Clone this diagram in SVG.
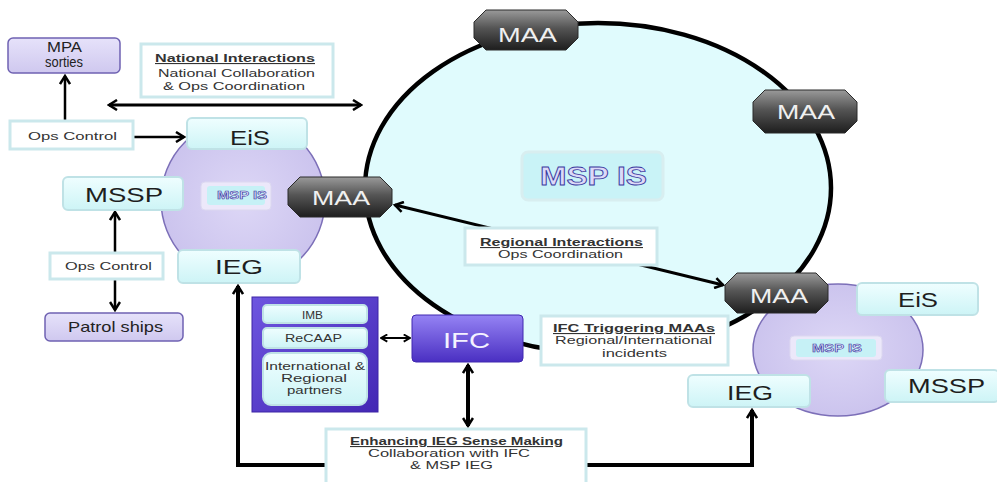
<svg xmlns="http://www.w3.org/2000/svg" width="997" height="482" viewBox="0 0 997 482">
<defs>
<linearGradient id="gCy" x1="0" y1="0" x2="0" y2="1"><stop offset="0" stop-color="#effeff"/><stop offset="1" stop-color="#cdf4f6"/></linearGradient>
<linearGradient id="gLav" x1="0" y1="0" x2="0" y2="1"><stop offset="0" stop-color="#e6e2fa"/><stop offset="1" stop-color="#cfc8ef"/></linearGradient>
<linearGradient id="gMaa" x1="0" y1="0" x2="0" y2="1"><stop offset="0" stop-color="#9a9a9a"/><stop offset="0.45" stop-color="#555"/><stop offset="1" stop-color="#1e1e1e"/></linearGradient>
<linearGradient id="gIfc" x1="0" y1="0" x2="0" y2="1"><stop offset="0" stop-color="#9583f4"/><stop offset="1" stop-color="#4a2fc2"/></linearGradient>
<linearGradient id="gPart" x1="0" y1="0" x2="1" y2="1"><stop offset="0" stop-color="#6e56e0"/><stop offset="1" stop-color="#4327b4"/></linearGradient>
<radialGradient id="gCirc" cx="0.5" cy="0.5" r="0.6"><stop offset="0" stop-color="#ddd7f6"/><stop offset="1" stop-color="#c8c0ec"/></radialGradient>
<marker id="ah" viewBox="0 0 12 12" refX="10" refY="6" markerWidth="12" markerHeight="12" orient="auto-start-reverse" markerUnits="userSpaceOnUse"><path d="M2,1 L10,6 L2,11" fill="none" stroke="#000" stroke-width="2.5"/></marker>
<marker id="ahs" viewBox="0 0 10 10" refX="9" refY="5" markerWidth="9" markerHeight="9" orient="auto-start-reverse" markerUnits="userSpaceOnUse"><path d="M2,1 L9,5 L2,9" fill="none" stroke="#000" stroke-width="2"/></marker>
</defs>
<style>
text{font-family:"Liberation Sans",Arial,sans-serif}
.cy{fill:url(#gCy);stroke:#bfe2e6;stroke-width:2}
.lav{fill:url(#gLav);stroke:#6f62b2;stroke-width:1.5}
.maa{fill:url(#gMaa);stroke:#2a2a2a;stroke-width:1}
.wb{fill:#fff;stroke:#cbe8ec;stroke-width:3}
.big{font-size:21px;fill:#1e1e1e}
.maat{font-size:20px;fill:#f0f0f0}
.sm{font-size:11px;fill:#333}
.smb{font-weight:bold;text-decoration:underline}
.msp{font-weight:bold;fill:#dcd9f8;stroke:#3b3aa0}
.ln{stroke:#000;fill:none}
</style>

<!-- big circle -->
<g id="msp-is-ring">
<ellipse cx="598" cy="188" rx="233" ry="165" fill="#e0fbfd" stroke="#000" stroke-width="4.5"/>
</g>
<g id="msp-is-main">
<rect x="522" y="152" width="141" height="48" rx="6" fill="#c9f3f7" stroke="#d8eef0" stroke-width="3"/>
<text x="540" y="185" class="msp" font-size="25" stroke-width="0.8" textLength="107" lengthAdjust="spacingAndGlyphs">MSP IS</text>
</g>

<!-- left small circle -->
<g id="left-circle">
<circle cx="243" cy="200" r="82" fill="url(#gCirc)" stroke="#7c6fb8" stroke-width="1.5"/>
</g>
<g id="left-msp-is">
<rect x="201" y="182" width="70" height="28" rx="4" fill="#ece8fa" stroke="#dcd8f0" stroke-width="1"/>
<rect x="207" y="186" width="58" height="19" rx="3" fill="#c6f1f6"/>
<text x="217" y="199" class="msp" font-size="10" stroke-width="0.5" textLength="50" lengthAdjust="spacingAndGlyphs">MSP IS</text>
</g>

<!-- connectors -->
<g id="connectors" class="ln">
<line x1="109" y1="105" x2="361" y2="105" stroke-width="3" marker-start="url(#ah)" marker-end="url(#ah)"/>
<line x1="65" y1="120" x2="65" y2="76" stroke-width="2.5" marker-end="url(#ah)"/>
<line x1="133" y1="137" x2="184" y2="137" stroke-width="2.5" marker-end="url(#ah)"/>
<line x1="115" y1="212" x2="115" y2="252" stroke-width="2.5" marker-start="url(#ah)"/>
<line x1="115" y1="278" x2="115" y2="310" stroke-width="2.5" marker-end="url(#ah)"/>
<line x1="395" y1="205" x2="723" y2="285" stroke-width="3" marker-start="url(#ah)" marker-end="url(#ah)"/>
<line x1="381" y1="338" x2="410" y2="338" stroke-width="2" marker-start="url(#ahs)" marker-end="url(#ahs)"/>
<line x1="468" y1="365" x2="468" y2="426" stroke-width="4" marker-start="url(#ah)" marker-end="url(#ah)"/>
<polyline points="326,465 238,465 238,286" stroke-width="4" marker-end="url(#ah)"/>
<polyline points="586,465 752,465 752,410" stroke-width="4" marker-end="url(#ah)"/>
</g>

<!-- left nodes -->
<g id="mpa-sorties">
<rect x="8" y="38" width="112" height="35" rx="5" class="lav"/>
<text x="47" y="52" font-size="14" fill="#222" textLength="35" lengthAdjust="spacingAndGlyphs">MPA</text>
<text x="45" y="67" font-size="14" fill="#222" textLength="38" lengthAdjust="spacingAndGlyphs">sorties</text>
</g>
<g id="national-interactions">
<rect x="141" y="44" width="192" height="53" class="wb"/>
<text x="155" y="62" class="sm smb" textLength="160" lengthAdjust="spacingAndGlyphs">National Interactions</text>
<text x="158" y="77" class="sm" textLength="157" lengthAdjust="spacingAndGlyphs">National Collaboration</text>
<text x="163" y="90" class="sm" textLength="142" lengthAdjust="spacingAndGlyphs">&amp; Ops Coordination</text>
</g>
<g id="ops-control-top">
<rect x="10" y="121" width="123" height="28" class="wb"/>
<text x="28" y="140" class="sm" textLength="89" lengthAdjust="spacingAndGlyphs">Ops Control</text>
</g>
<g id="eis-left">
<rect x="187" y="118" width="120" height="31" rx="5" class="cy"/>
<text x="230" y="145" class="big" textLength="40" lengthAdjust="spacingAndGlyphs">EiS</text>
</g>
<g id="mssp-left">
<rect x="63" y="177" width="120" height="33" rx="5" class="cy"/>
<text x="85" y="202" class="big" textLength="78" lengthAdjust="spacingAndGlyphs">MSSP</text>
</g>
<g id="maa-left">
<polygon points="300,177 380,177 392,189 392,205 380,217 300,217 288,205 288,189" class="maa"/>
<text x="312" y="205" class="maat" textLength="58" lengthAdjust="spacingAndGlyphs">MAA</text>
</g>
<g id="ieg-left">
<rect x="178" y="250" width="122" height="33" rx="5" class="cy"/>
<text x="215" y="274" class="big" textLength="48" lengthAdjust="spacingAndGlyphs">IEG</text>
</g>
<g id="ops-control-bottom">
<rect x="50" y="253" width="113" height="26" class="wb"/>
<text x="65" y="270" class="sm" textLength="87" lengthAdjust="spacingAndGlyphs">Ops Control</text>
</g>
<g id="patrol-ships">
<rect x="45" y="313" width="138" height="28" rx="5" class="lav"/>
<text x="68" y="332" font-size="15" fill="#222" textLength="95" lengthAdjust="spacingAndGlyphs">Patrol ships</text>
</g>

<!-- partners -->
<g id="partners">
<rect x="252" y="297" width="126" height="115" fill="url(#gPart)" stroke="#3d25a6" stroke-width="1"/>
<rect x="263" y="305" width="104" height="18" rx="4" class="cy" stroke-width="1"/>
<text x="302" y="319" class="sm" textLength="21" lengthAdjust="spacingAndGlyphs">IMB</text>
<rect x="263" y="328" width="104" height="20" rx="4" class="cy" stroke-width="1"/>
<text x="285" y="342" class="sm" textLength="57" lengthAdjust="spacingAndGlyphs">ReCAAP</text>
<rect x="263" y="353" width="104" height="52" rx="8" class="cy" stroke-width="1"/>
<text x="265" y="370" class="sm" textLength="100" lengthAdjust="spacingAndGlyphs">International &amp;</text>
<text x="281" y="382" class="sm" textLength="66" lengthAdjust="spacingAndGlyphs">Regional</text>
<text x="287" y="394" class="sm" textLength="55" lengthAdjust="spacingAndGlyphs">partners</text>
</g>

<!-- IFC -->
<g id="ifc">
<rect x="412" y="315" width="111" height="47" rx="4" fill="url(#gIfc)" stroke="#4128b0" stroke-width="1"/>
<text x="443" y="348" font-size="22" fill="#f4f2ff" textLength="47" lengthAdjust="spacingAndGlyphs">IFC</text>
</g>

<!-- ring MAAs -->
<g id="maa-top">
<polygon points="486,10 566,10 578,22 578,38 566,50 486,50 474,38 474,22" class="maa"/>
<text x="498" y="42" class="maat" textLength="59" lengthAdjust="spacingAndGlyphs">MAA</text>
</g>
<g id="maa-right">
<polygon points="765,90 845,90 857,102 857,121 845,133 765,133 753,121 753,102" class="maa"/>
<text x="777" y="119" class="maat" textLength="58" lengthAdjust="spacingAndGlyphs">MAA</text>
</g>

<!-- Regional interactions -->
<g id="regional-interactions">
<rect x="465" y="228" width="192" height="37" class="wb"/>
<text x="480" y="246" class="sm smb" textLength="163" lengthAdjust="spacingAndGlyphs">Regional Interactions</text>
<text x="498" y="258" class="sm" textLength="125" lengthAdjust="spacingAndGlyphs">Ops Coordination</text>
</g>

<!-- IFC triggering -->
<g id="ifc-triggering">
<rect x="541" y="316" width="187" height="49" class="wb"/>
<text x="553" y="332" class="sm smb" textLength="162" lengthAdjust="spacingAndGlyphs">IFC Triggering MAAs</text>
<text x="555" y="344" class="sm" textLength="157" lengthAdjust="spacingAndGlyphs">Regional/International</text>
<text x="602" y="357" class="sm" textLength="65" lengthAdjust="spacingAndGlyphs">incidents</text>
</g>

<!-- right cluster -->
<g id="right-circle">
<ellipse cx="838" cy="350" rx="85" ry="66" fill="url(#gCirc)" stroke="#7c6fb8" stroke-width="1.5"/>
</g>
<g id="right-msp-is">
<rect x="790" y="336" width="92" height="24" rx="4" fill="#ece8fa" stroke="#dcd8f0" stroke-width="1"/>
<rect x="796" y="339" width="80" height="18" rx="3" fill="#c6f1f6"/>
<text x="812" y="352" class="msp" font-size="10" stroke-width="0.5" textLength="50" lengthAdjust="spacingAndGlyphs">MSP IS</text>
</g>
<g id="maa-bottom-right">
<polygon points="737,273 816,273 828,285 828,301 816,313 737,313 725,301 725,285" class="maa"/>
<text x="750" y="303" class="maat" textLength="58" lengthAdjust="spacingAndGlyphs">MAA</text>
</g>
<g id="eis-right">
<rect x="857" y="283" width="121" height="32" rx="5" class="cy"/>
<text x="898" y="307" class="big" textLength="40" lengthAdjust="spacingAndGlyphs">EiS</text>
</g>
<g id="mssp-right">
<rect x="885" y="370" width="114" height="32" rx="5" class="cy"/>
<text x="908" y="393" class="big" textLength="77" lengthAdjust="spacingAndGlyphs">MSSP</text>
</g>
<g id="ieg-right">
<rect x="688" y="375" width="122" height="32" rx="5" class="cy"/>
<text x="727" y="400" class="big" textLength="46" lengthAdjust="spacingAndGlyphs">IEG</text>
</g>

<!-- Enhancing -->
<g id="enhancing-ieg">
<rect x="326" y="429" width="260" height="56" class="wb"/>
<text x="350" y="445" class="sm smb" textLength="213" lengthAdjust="spacingAndGlyphs">Enhancing IEG Sense Making</text>
<text x="368" y="457" class="sm" textLength="162" lengthAdjust="spacingAndGlyphs">Collaboration with IFC</text>
<text x="410" y="469" class="sm" textLength="83" lengthAdjust="spacingAndGlyphs">&amp; MSP IEG</text>
</g>
</svg>
